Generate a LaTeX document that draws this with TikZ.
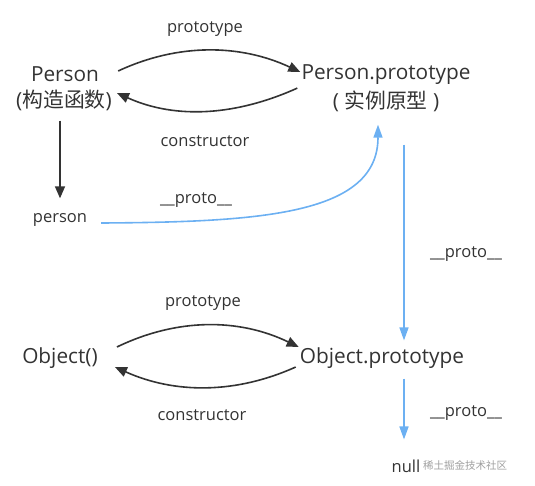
\documentclass[tikz,border=0pt]{standalone}
\usepackage{fontspec}
\setmainfont{Open Sans}
\newfontfamily\cjk{Noto Sans CJK SC}
\usetikzlibrary{arrows.meta}

\definecolor{inkgray}{HTML}{333333}
\definecolor{protoblue}{HTML}{6CB0F2}

\begin{document}
\begin{tikzpicture}[
    x=1pt, y=-1pt,
    every node/.style = {text=inkgray, inner sep=1pt},
    big/.style        = {font=\fontsize{20.8}{24}\selectfont},
    small/.style      = {font=\fontsize{16.5}{20}\selectfont},
    blk/.style        = {draw=inkgray, line width=1.6pt, -{Triangle[length=12pt,width=10pt]}},
    blu/.style        = {draw=protoblue, line width=1.6pt, -{Triangle[length=13pt,width=9pt]}}
    ]
      \useasboundingbox (0,0) rectangle (535,485);

      % objects --------------------------------------------------
      \node[big]   (pfn)    at (65,74)   {Person};
      \node[big]   (pfncn)  at (64,100)  {({\cjk 构造函数})};
      \node[big]   (ppt)    at (386,75)  {Person.prototype};
      \node[big]   (pptcn)  at (386,101) {( {\cjk 实例原型} )};
      \node[small] (pers)   at (60,220)  {person};
      \node[big]   (obj)    at (60,358)  {Object()};
      \node[big]   (opt)    at (382,358) {Object.prototype};
      \node[small] (nul)    at (406,466) {null};
      \node[text=gray!75,font=\cjk\fontsize{10.5}{12}\selectfont] (wm) at (465,465) {稀土掘金技术社区};

      % labels ---------------------------------------------------
      \node[small] (lpt1) at (205,29)  {prototype};
      \node[small] (lco1) at (205,141) {constructor};
      \node[small] (lpr1) at (196,200) {\_\_proto\_\_};
      \node[small] (lpr2) at (466,254) {\_\_proto\_\_};
      \node[small] (lpt2) at (203,303) {prototype};
      \node[small] (lco2) at (202,415) {constructor};
      \node[small] (lpr3) at (466,413) {\_\_proto\_\_};

      % arrows ---------------------------------------------------
      \draw[blk] ([xshift=18pt,yshift=3pt]pfn.east) .. controls +(60,-28) and +(-60,-28) .. ([yshift=3pt]ppt.west);
      \draw[blk] ([xshift=-3pt,yshift=-2pt]ppt.south west) .. controls +(-60,27) and +(60,27) .. ([xshift=4pt,yshift=7pt]pfncn.east);
      \draw[blk] ([xshift=-4pt,yshift=-9pt]pfncn.south) -- ([yshift=14pt]pers.north);
      \draw[blk] ([xshift=18pt,yshift=11pt]obj.east) .. controls +(60,-29) and +(-60,-29) .. ([yshift=11pt]opt.west);
      \draw[blk] ([xshift=-3pt,yshift=-9pt]opt.west) .. controls +(-60,27) and +(60,27) .. ([xshift=16pt,yshift=-9pt]obj.east);

      \draw[blu] ([xshift=13pt,yshift=-3pt]pers.east) .. controls +(160,-1) and +(0,90) .. ([xshift=-8pt,yshift=-12pt]pptcn.south);
      \draw[blu] ([xshift=18pt,yshift=-32pt]pptcn.south) -- ([xshift=22pt,yshift=6pt]opt.north);
      \draw[blu] ([xshift=22pt,yshift=-9pt]opt.south) -- ([xshift=-2pt,yshift=19pt]nul.north);
\end{tikzpicture}
\end{document}
